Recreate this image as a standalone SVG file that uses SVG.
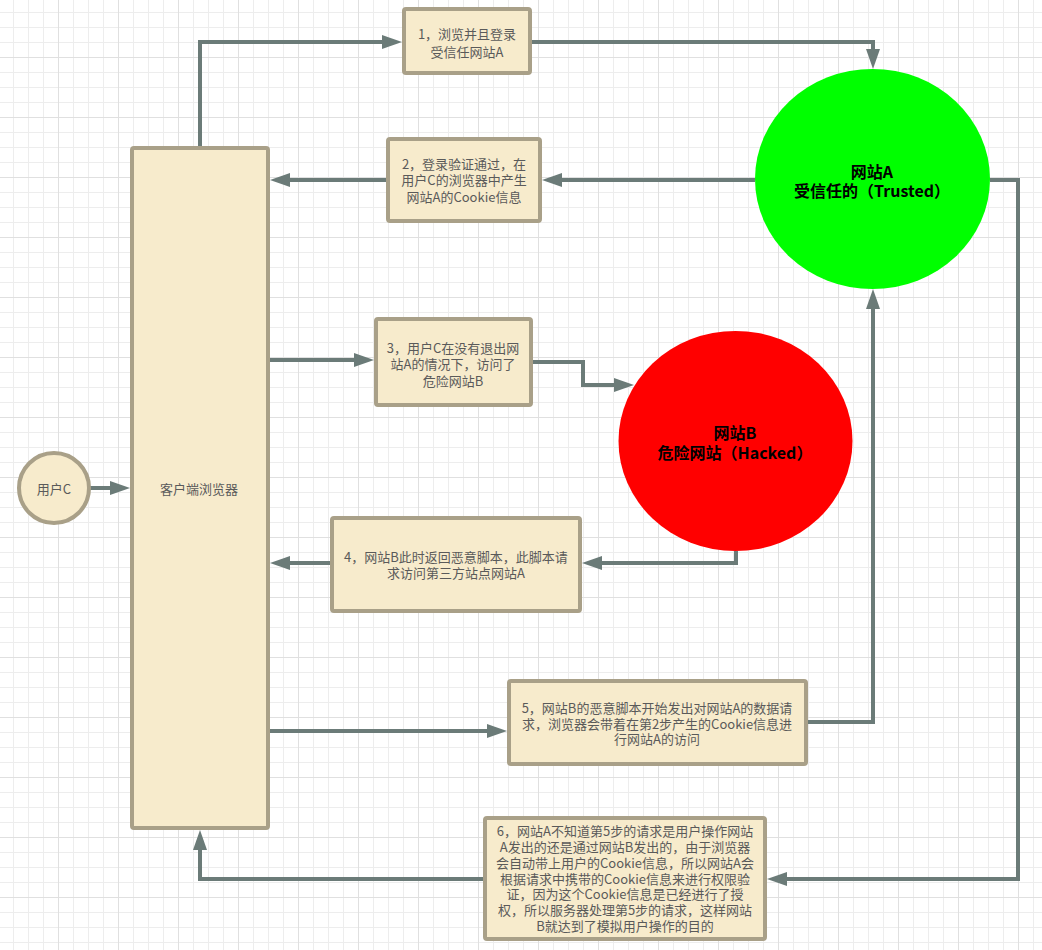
<svg xmlns="http://www.w3.org/2000/svg" width="1042" height="950" viewBox="0 0 1042 950">
<defs>
<pattern id="grid" patternUnits="userSpaceOnUse" x="-2" y="-3" width="60" height="60">
<path d="M15.5,0V60M30.5,0V60M45.5,0V60M0,15.5H60M0,30.5H60M0,45.5H60" stroke="#ededed" stroke-width="1" fill="none"/>
<path d="M0.5,0V60M0,0.5H60" stroke="#e0e0e0" stroke-width="1" fill="none"/>
</pattern>
<marker id="arr" markerUnits="userSpaceOnUse" markerWidth="20" markerHeight="14" refX="10" refY="7" orient="auto" viewBox="0 0 20 14">
<path d="M0,0L20,7L0,14z" fill="#6b7b78"/>
</marker>
</defs>
<style>
.box{fill:#f7ebcc;stroke:#a9a088;stroke-width:4}
.t{font-family:"Noto Sans CJK SC","Microsoft YaHei",sans-serif;font-size:13px;fill:#5a5a5a;text-anchor:middle}
.b{font-family:"Noto Sans CJK SC","Microsoft YaHei",sans-serif;font-size:16px;font-weight:bold;fill:#000;text-anchor:middle}
.c{fill:none;stroke:#6b7b78;stroke-width:4;marker-end:url(#arr)}
</style>
<rect width="1042" height="950" fill="#fff"/>
<rect width="1042" height="950" fill="url(#grid)"/>
<g id="connectors">
<path class="c" d="M200,146V42H392"/>
<path class="c" d="M532,42H873V59"/>
<path class="c" d="M755,180H552"/>
<path class="c" d="M386,180H280"/>
<path class="c" d="M270,360H364"/>
<path class="c" d="M533,362H583V385H624"/>
<path class="c" d="M736,551V563H592"/>
<path class="c" d="M330,563H280"/>
<path class="c" d="M270,731H497"/>
<path class="c" d="M808,722H873V299"/>
<path class="c" d="M990,180H1018V879H777"/>
<path class="c" d="M483,879H200V840"/>
<path class="c" d="M90,488H120"/>
</g>
<g id="userC">
<circle cx="54" cy="488" r="35" class="box"/>
<text class="t" x="54" y="493.5">用户C</text>
</g>
<g id="browser">
<rect x="132" y="148" width="136" height="680" rx="2" class="box"/>
<text class="t" x="199" y="493.5">客户端浏览器</text>
</g>
<g id="siteA">
<ellipse cx="872.5" cy="179" rx="117.5" ry="110" fill="#00ff00"/>
<text class="b" x="872" y="177.5">网站A</text>
<text class="b" x="872" y="196.5">受信任的（Trusted）</text>
</g>
<g id="siteB">
<ellipse cx="735.5" cy="441" rx="117" ry="110" fill="#ff0000"/>
<text class="b" x="735" y="438.5">网站B</text>
<text class="b" x="735" y="458.5">危险网站（Hacked）</text>
</g>
<g id="step1">
<rect x="404" y="9" width="126" height="64" rx="2" class="box"/>
<text class="t" x="467" y="38.5">1，浏览并且登录</text>
<text class="t" x="467" y="56.5">受信任网站A</text>
</g>
<g id="step2">
<rect x="388" y="139" width="152" height="82" rx="2" class="box"/>
<text class="t" x="464" y="168.5">2，登录验证通过，在</text>
<text class="t" x="464" y="185">用户C的浏览器中产生</text>
<text class="t" x="464" y="201.5">网站A的Cookie信息</text>
</g>
<g id="step3">
<rect x="376" y="319" width="155" height="86" rx="2" class="box"/>
<text class="t" x="453" y="352.5">3，用户C在没有退出网</text>
<text class="t" x="453" y="369">站A的情况下，访问了</text>
<text class="t" x="453" y="385.5">危险网站B</text>
</g>
<g id="step4">
<rect x="332" y="518" width="248" height="93" rx="2" class="box"/>
<text class="t" x="456" y="561.5">4，网站B此时返回恶意脚本，此脚本请</text>
<text class="t" x="456" y="577.5">求访问第三方站点网站A</text>
</g>
<g id="step5">
<rect x="509" y="681" width="297" height="83" rx="2" class="box"/>
<text class="t" x="657" y="712.5">5，网站B的恶意脚本开始发出对网站A的数据请</text>
<text class="t" x="657" y="728.5">求，浏览器会带着在第2步产生的Cookie信息进</text>
<text class="t" x="657" y="744">行网站A的访问</text>
</g>
<g id="step6">
<rect x="485" y="818" width="280" height="121" rx="2" class="box"/>
<text class="t" x="625" y="836.2">6，网站A不知道第5步的请求是用户操作网站</text>
<text class="t" x="625" y="852">A发出的还是通过网站B发出的，由于浏览器</text>
<text class="t" x="625" y="867.8">会自动带上用户的Cookie信息，所以网站A会</text>
<text class="t" x="625" y="883.6">根据请求中携带的Cookie信息来进行权限验</text>
<text class="t" x="625" y="899.4">证，因为这个Cookie信息是已经进行了授</text>
<text class="t" x="625" y="915.2">权，所以服务器处理第5步的请求，这样网站</text>
<text class="t" x="625" y="931">B就达到了模拟用户操作的目的</text>
</g>
</svg>
